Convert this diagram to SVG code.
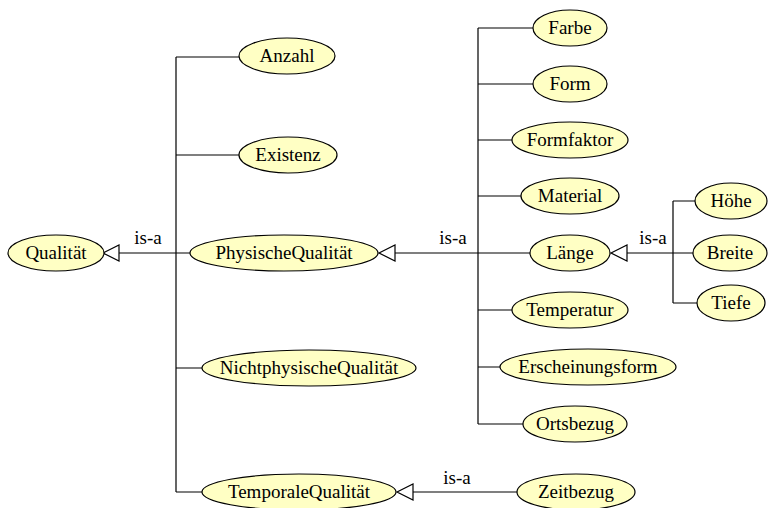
<svg xmlns="http://www.w3.org/2000/svg" width="769" height="508" viewBox="0 0 769 508" font-family="'Liberation Serif', 'Times New Roman', Times, serif">
  <defs>
    <style>
      .node ellipse { fill: #ffffc4; stroke: #000; stroke-width: 1.2; }
      text { font-family: 'Liberation Serif', 'Times New Roman', Times, serif; font-size: 19px; fill: #000; text-anchor: middle; }
      .edges path { fill: none; stroke: #000; stroke-width: 1.2; }
      .edges polygon { fill: #fff; stroke: #000; stroke-width: 1.2; }
    </style>
  </defs>

  <g class="edges">
    <!-- Qualität hierarchy -->
    <path d="M119 253 H190 M176 57 V492 M176 57 H239 M176 155 H239 M176 368 H202 M176 492 H202"/>
    <polygon points="103,253 119,245 119,261"/>
    <!-- PhysischeQualität hierarchy -->
    <path d="M395 253 H530 M478 28 V424 M478 28 H533 M478 84 H533 M478 140 H512 M478 196 H521 M478 310 H512 M478 367 H500 M478 424 H523"/>
    <polygon points="379,253 395,245 395,261"/>
    <!-- Länge hierarchy -->
    <path d="M627 253 H693 M673 201 V303 M673 201 H695 M673 303 H697"/>
    <polygon points="611,253 627,245 627,261"/>
    <!-- TemporaleQualität -->
    <path d="M413 492 H517"/>
    <polygon points="397,492 413,484 413,500"/>
    <text x="148" y="244">is-a</text>
    <text x="453" y="244">is-a</text>
    <text x="653" y="244">is-a</text>
    <text x="457" y="484">is-a</text>
  </g>

  <g id="qualitaet" class="node"><ellipse cx="56" cy="253" rx="48" ry="18"/><text x="56" y="259">Qualität</text></g>
  <g id="anzahl" class="node"><ellipse cx="287" cy="56" rx="48" ry="18"/><text x="287" y="62">Anzahl</text></g>
  <g id="existenz" class="node"><ellipse cx="288" cy="155" rx="49" ry="18"/><text x="288" y="161">Existenz</text></g>
  <g id="physisch" class="node"><ellipse cx="284" cy="253" rx="94" ry="18"/><text x="284" y="259">PhysischeQualität</text></g>
  <g id="nichtphysisch" class="node"><ellipse cx="309" cy="368" rx="107" ry="18"/><text x="309" y="374">NichtphysischeQualität</text></g>
  <g id="temporal" class="node"><ellipse cx="299" cy="492" rx="97" ry="18"/><text x="299" y="498">TemporaleQualität</text></g>

  <g id="farbe" class="node"><ellipse cx="570" cy="28" rx="37" ry="18"/><text x="570" y="34">Farbe</text></g>
  <g id="form" class="node"><ellipse cx="570" cy="84" rx="37" ry="18"/><text x="570" y="90">Form</text></g>
  <g id="formfaktor" class="node"><ellipse cx="570" cy="140" rx="58" ry="18"/><text x="570" y="146">Formfaktor</text></g>
  <g id="material" class="node"><ellipse cx="570" cy="196" rx="49" ry="18"/><text x="570" y="202">Material</text></g>
  <g id="laenge" class="node"><ellipse cx="570" cy="253" rx="40" ry="18"/><text x="570" y="259">Länge</text></g>
  <g id="temperatur" class="node"><ellipse cx="570" cy="310" rx="58" ry="18"/><text x="570" y="316">Temperatur</text></g>
  <g id="erscheinungsform" class="node"><ellipse cx="588" cy="367" rx="88" ry="18"/><text x="588" y="373">Erscheinungsform</text></g>
  <g id="ortsbezug" class="node"><ellipse cx="575" cy="424" rx="52" ry="18"/><text x="575" y="430">Ortsbezug</text></g>

  <g id="hoehe" class="node"><ellipse cx="731" cy="201" rx="36" ry="18"/><text x="731" y="207">Höhe</text></g>
  <g id="breite" class="node"><ellipse cx="730" cy="253" rx="37" ry="18"/><text x="730" y="259">Breite</text></g>
  <g id="tiefe" class="node"><ellipse cx="731" cy="303" rx="34" ry="18"/><text x="731" y="309">Tiefe</text></g>

  <g id="zeitbezug" class="node"><ellipse cx="576" cy="492" rx="59" ry="18"/><text x="576" y="498">Zeitbezug</text></g>
</svg>
